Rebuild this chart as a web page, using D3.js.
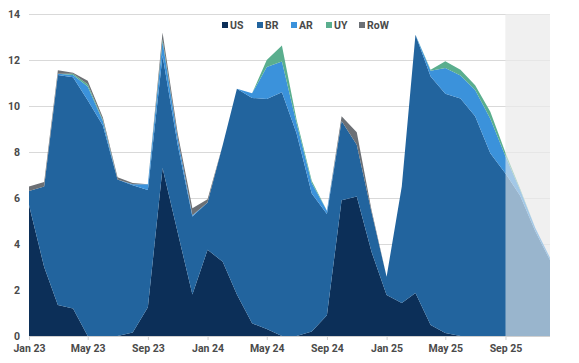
<!DOCTYPE html>
<html>
<head>
<meta charset="utf-8">
<script src="https://cdn.jsdelivr.net/npm/d3@7"></script>
<style>
  body { margin: 0; background: #fff; }
  text { font-family: Roboto, "Noto Sans", sans-serif; }
</style>
</head>
<body>
<script>
var w = 579, h = 363,
    plotLeft = 29, plotRight = 550, plotTop = 14, plotBottom = 336;

// monthly, Jan 23 .. Dec 25
var months = d3.timeMonth.range(new Date(2023, 0, 1), new Date(2026, 0, 1));
var keys = ["US", "BR", "AR", "UY", "RoW"];
var colors = ["#0c2f58", "#22649e", "#3b92db", "#5aae8e", "#6c7075"];

var us  = [5.7, 3.0, 1.35, 1.2, 0, 0, 0, 0.15, 1.25, 7.3, 4.5, 1.8,
           3.75, 3.23, 1.8, 0.55, 0.3, 0, 0, 0.2, 0.9, 5.9, 6.06, 3.67,
           1.78, 1.43, 1.87, 0.48, 0.13, 0, 0, 0, 0, 0, 0, 0];
var br  = [0.6, 3.5, 10.0, 10.05, 10.25, 9.15, 6.8, 6.4, 5.1, 4.9, 3.8, 3.4,
           2.05, 5.07, 8.95, 9.8, 10.0, 10.6, 8.8, 6.0, 4.4, 3.45, 2.25, 1.73,
           0.8, 5.07, 11.23, 10.8, 10.4, 10.33, 9.55, 7.95, 7.07, 6.1, 4.55, 3.3];
var ar  = [0, 0, 0.05, 0.1, 0.6, 0.2, 0, 0.05, 0.25, 0.6, 0.3, 0.05,
           0, 0, 0, 0.2, 1.4, 1.33, 0.45, 0.45, 0.15, 0, 0, 0,
           0, 0, 0, 0.25, 1.12, 1.0, 1.15, 1.5, 0.75, 0.25, 0.15, 0.1];
var uy  = [0, 0, 0, 0.05, 0.1, 0.05, 0, 0, 0, 0.1, 0, 0,
           0, 0, 0, 0, 0.3, 0.7, 0.15, 0.1, 0, 0, 0, 0,
           0, 0, 0, 0.05, 0.3, 0.25, 0.2, 0.3, 0.15, 0.05, 0, 0];
var row = [0.2, 0.2, 0.15, 0.05, 0.15, 0.1, 0.1, 0.05, 0, 0.3, 0.2, 0.3,
           0.15, 0, 0, 0, 0, 0, 0, 0, 0, 0.2, 0.55, 0.1,
           0, 0, 0, 0, 0, 0, 0, 0, 0, 0, 0, 0];
var yTicks = [0, 2, 4, 6, 8, 10, 12, 14];
var forecastStart = new Date(2025, 8, 1);

var data = months.map(function (m, i) {
    return { date: m, US: us[i], BR: br[i], AR: ar[i], UY: uy[i], RoW: row[i] };
});

var x = d3.scaleTime().domain([months[0], months[months.length - 1]]).range([plotLeft, plotRight]);
var y = d3.scaleLinear().domain([0, 14]).range([plotBottom, plotTop]);
var color = d3.scaleOrdinal().domain(keys).range(colors);

var svg = d3.select("body").append("svg").attr("width", w).attr("height", h);

// forecast background
svg.append("rect")
    .attr("x", x(forecastStart)).attr("y", plotTop)
    .attr("width", plotRight - x(forecastStart)).attr("height", plotBottom - plotTop)
    .attr("fill", "#f0f0f0");

// grid
svg.append("g").selectAll("line").data(yTicks.slice(1)).enter().append("line")
    .attr("x1", plotLeft).attr("x2", plotRight)
    .attr("y1", function (d) { return y(d) + 0.5 }).attr("y2", function (d) { return y(d) + 0.5 })
    .attr("stroke", "#d9d9d9").attr("stroke-width", 1);

var series = d3.stack().keys(keys)(data);
var area = d3.area()
    .x(function (d) { return x(d.data.date) })
    .y0(function (d) { return y(d[0]) })
    .y1(function (d) { return y(d[1]) });

svg.append("g").selectAll("path").data(series).enter().append("path")
    .attr("d", area)
    .attr("fill", function (d) { return color(d.key) });

// fade the forecast months
svg.append("rect")
    .attr("x", x(forecastStart)).attr("y", plotTop)
    .attr("width", plotRight - x(forecastStart)).attr("height", plotBottom - plotTop)
    .attr("fill", "#f0f0f0").attr("fill-opacity", 0.58);

// x axis
svg.append("line").attr("x1", plotLeft).attr("x2", plotRight)
    .attr("y1", plotBottom + 0.5).attr("y2", plotBottom + 0.5).attr("stroke", "#d0d0d0");

var xAxis = d3.axisBottom(x)
    .tickValues(months.filter(function (m) { return m.getMonth() % 4 === 0 }))
    .tickFormat(d3.timeFormat("%b %y"))
    .tickSize(4).tickPadding(5);

var gx = svg.append("g").attr("transform", "translate(0," + plotBottom + ")").call(xAxis);
gx.select(".domain").remove();
gx.selectAll(".tick line").attr("stroke", "#d0d0d0");
gx.selectAll(".tick text")
    .attr("fill", "#4a4a4a").style("font-size", "10.5px").style("font-weight", "700");

// y axis
var yAxis = d3.axisLeft(y).tickValues(yTicks).tickSize(0).tickPadding(9);
var gy = svg.append("g").attr("transform", "translate(" + plotLeft + ",0)").call(yAxis);
gy.select(".domain").remove();
gy.selectAll(".tick text")
    .attr("fill", "#4a4a4a").style("font-size", "10.5px").style("font-weight", "700");

// legend
var legendX = [222, 257, 291, 326, 359];
var legend = svg.append("g").selectAll("g").data(keys).enter().append("g")
    .attr("transform", function (d, i) { return "translate(" + legendX[i] + ",25)" });
legend.append("rect").attr("x", 0).attr("y", -3).attr("width", 6).attr("height", 6)
    .attr("fill", function (d) { return color(d) });
legend.append("text").attr("x", 8).attr("y", 0).attr("dy", "0.36em")
    .attr("fill", "#4a4a4a").style("font-size", "10.5px").style("font-weight", "700")
    .text(function (d) { return d });
</script>
</body>
</html>
